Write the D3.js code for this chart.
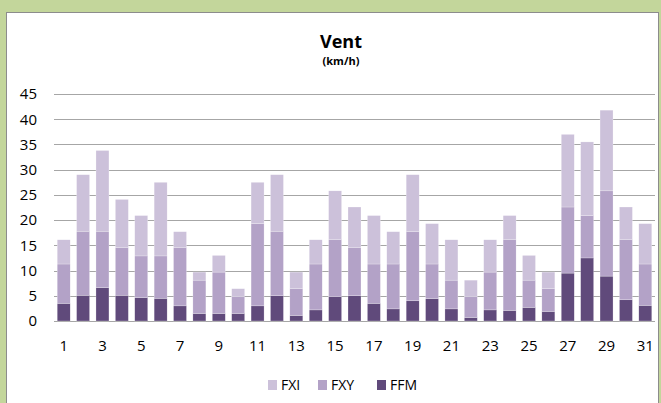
<!DOCTYPE html>
<html>
  <head>
    <meta charset="utf-8">
    <title>Vent</title>
    <script src="https://cdn.jsdelivr.net/npm/d3@7"></script>
    <style>
      body { margin: 0; background: #c3d69b; }
      svg { display: block; }
      svg text { font-family: "Open Sans", sans-serif; fill: #000; }
      .grid line { stroke: #a6a6a6; stroke-width: 1; }
      .axis text { font-size: 15px; font-family: "Open Sans", sans-serif; }
      .axis path, .axis line { display: none; }
    </style>
  </head>
  <body>
    <svg id="chart" width="661" height="403">
      <rect id="panel"></rect>
      <g id="gridGroup" class="grid"></g>
      <g id="chartGroup"></g>
      <g id="xAxisGroup" class="axis"></g>
      <g id="yAxisGroup" class="axis"></g>
      <g id="legendGroup"></g>
    </svg>
    <script>
      // data (segment heights, km/h)
      days = d3.range(1, 32).map(String);
      ffm = [3.5, 5.1, 6.6, 5.1, 4.6, 4.5, 3.0, 1.5, 1.5, 1.5, 3.0, 5.0, 1.1, 2.2, 4.8, 5.0,
             3.5, 2.4, 4.0, 4.4, 2.4, 0.7, 2.2, 2.1, 2.7, 1.9, 9.5, 12.5, 8.9, 4.2, 3.1];
      fxy = [7.8, 12.7, 11.2, 9.5, 8.3, 8.4, 11.6, 6.6, 8.2, 3.3, 16.3, 12.8, 5.3, 9.1, 11.3, 9.6,
             7.8, 8.9, 13.7, 6.9, 5.7, 4.1, 7.5, 14.0, 5.4, 4.5, 13.1, 8.4, 16.9, 11.9, 8.2];
      fxi = [4.8, 11.2, 16.0, 9.5, 8.0, 14.6, 3.1, 1.6, 3.3, 1.6, 8.2, 11.2, 3.3, 4.8, 9.7, 8.0,
             9.6, 6.4, 11.3, 8.0, 8.0, 3.3, 6.4, 4.8, 4.9, 3.3, 14.4, 14.6, 16.0, 6.5, 8.0];
      yTicks = [0, 5, 10, 15, 20, 25, 30, 35, 40, 45];
      keys = ["FFM", "FXY", "FXI"];
      legendKeys = ["FXI", "FXY", "FFM"];
      colours = { FFM: "#604a7b", FXY: "#b3a2c7", FXI: "#ccc1da" };

      rows = days.map(function(d, i) {
        return { day: d, FFM: ffm[i], FXY: fxy[i], FXI: fxi[i] };
      });

      // page elements
      chart = d3.select("#chart");
      margin = { top: 94, right: 6, bottom: 82, left: 54 };
      width = 661;
      height = 403;

      chart.select("#panel")
        .attr("x", 6.5).attr("y", 12.5)
        .attr("width", 652).attr("height", 400)
        .attr("fill", "#fff")
        .attr("stroke", "#8c8c8c");

      // title
      chart.append("text")
        .attr("x", 341).attr("y", 48)
        .attr("text-anchor", "middle")
        .attr("font-size", 18).attr("font-weight", "bold")
        .text("Vent");
      chart.append("text")
        .attr("x", 341).attr("y", 65)
        .attr("text-anchor", "middle")
        .attr("font-size", 11).attr("font-weight", "bold")
        .text("(km/h)");

      // scales
      x = d3.scaleBand()
        .domain(days)
        .range([margin.left, width - margin.right])
        .paddingInner(0.33)
        .paddingOuter(0.165);
      y = d3.scaleLinear()
        .domain([0, 45])
        .range([321, 94]);

      // gridlines
      d3.select("#gridGroup").selectAll("line")
          .data(yTicks)
        .enter().append("line")
          .attr("x1", margin.left).attr("x2", width - margin.right)
          .attr("y1", function(d) { return Math.round(y(d)) + 0.5; })
          .attr("y2", function(d) { return Math.round(y(d)) + 0.5; });

      // stacked bars
      stackData = d3.stack().keys(keys)(rows);
      d3.select("#chartGroup").selectAll(".stack")
          .data(stackData)
        .enter().append("g")
          .attr("class", "stack")
          .attr("fill", function(d) { return colours[d.key]; })
        .selectAll("rect")
          .data(function(d) { return d; })
        .enter().append("rect")
          .attr("x", function(d) { return x(d.data.day); })
          .attr("width", x.bandwidth())
          .attr("y", function(d) { return y(d[1]); })
          .attr("height", function(d) { return y(d[0]) - y(d[1]); })
          .attr("stroke", "#fff")
          .attr("stroke-width", 0.4)
          .attr("stroke-opacity", 0.6);

      // axes
      xAxis = d3.axisBottom(x)
        .tickValues(days.filter(function(d, i) { return i % 2 === 0; }))
        .tickSize(0)
        .tickPadding(19);
      yAxis = d3.axisLeft(y)
        .tickValues(yTicks)
        .tickSize(0)
        .tickPadding(17);
      d3.select("#xAxisGroup")
        .attr("transform", "translate(0," + y(0) + ")")
        .call(xAxis);
      d3.select("#yAxisGroup")
        .attr("transform", "translate(" + margin.left + ",0)")
        .call(yAxis);

      // legend
      legendX = { FXI: 268, FXY: 318, FFM: 377 };
      legend = d3.select("#legendGroup").selectAll("g")
          .data(legendKeys)
        .enter().append("g")
          .attr("transform", function(d) { return "translate(" + legendX[d] + ",380)"; });
      legend.append("rect")
        .attr("width", 9).attr("height", 10)
        .attr("fill", function(d) { return colours[d]; });
      legend.append("text")
        .attr("x", 13).attr("y", 10)
        .attr("font-size", 14)
        .text(function(d) { return d; });
    </script>
  </body>
</html>
